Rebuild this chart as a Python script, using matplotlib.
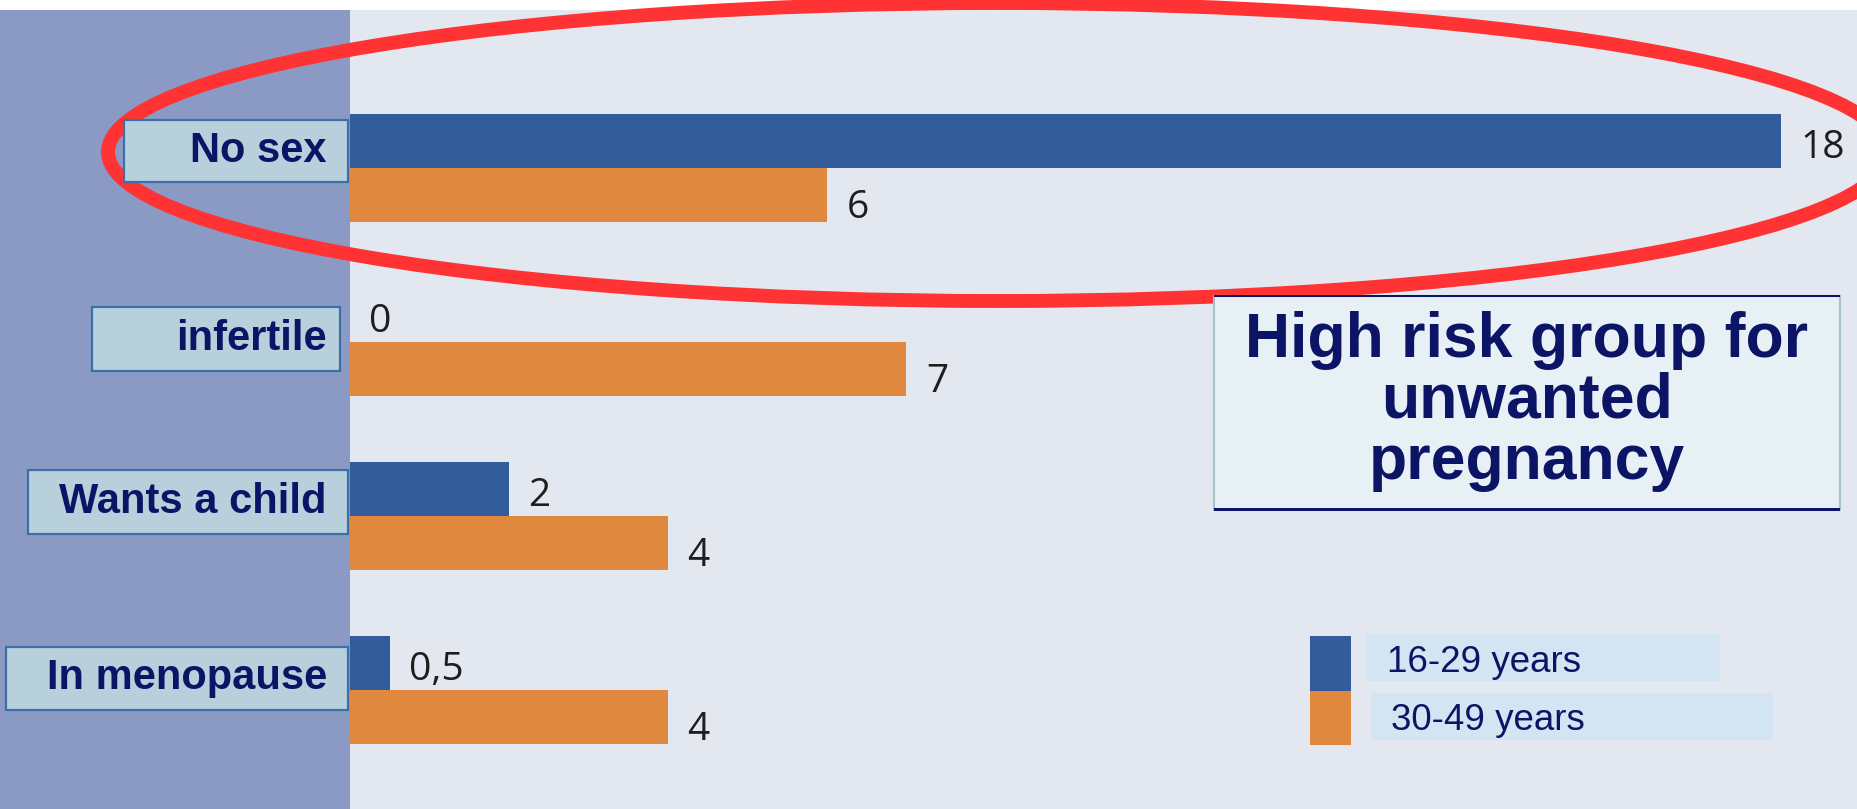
import matplotlib
matplotlib.use("Agg")
import matplotlib.pyplot as plt
from matplotlib.patches import Rectangle, Ellipse
import numpy as np

# data
categories = ["No sex", "infertile", "Wants a child", "In menopause"]
young = [18, 0, 2, 0.5]      # 16-29 years
older = [6, 7, 4, 4]         # 30-49 years
series_names = ["16-29 years", "30-49 years"]
title_lines = ["High risk group for", "unwanted", "pregnancy"]

# layout (pixels, from top-left of the 1858x809 canvas)
W, H = 1858, 809
DPI = 100
box_left = [124, 92, 28, 6]
box_right = [348, 340, 348, 348]
box_top = [120, 307, 470, 647]
box_bottom = [182, 371, 534, 710]

BLUE = "#325C9A"
ORANGE = "#E0883E"
NAVY = "#0C1466"
PANEL = "#8B9AC4"
PLOT_BG = "#E3E8F0"


def fx(px):
    return px / W


def fy(py):
    return 1 - py / H


def fig_rect(fig, x0, y0, x1, y1, **kw):
    r = Rectangle((fx(x0), fy(y1)), (x1 - x0) / W, (y1 - y0) / H,
                  transform=fig.transFigure, **kw)
    fig.add_artist(r)
    return r


def fmt(v):
    return str(int(v)) if float(v).is_integer() else str(v).replace(".", ",")


fig = plt.figure(figsize=(W / DPI, H / DPI), dpi=DPI, facecolor="white")

# left panel
fig_rect(fig, 0, 10, 350, 809, facecolor=PANEL, edgecolor="none", zorder=0)

ax = fig.add_axes([fx(350), 0, 1508 / W, 799 / H])
ax.set_facecolor(PLOT_BG)
for s in ax.spines.values():
    s.set_visible(False)
ax.set_xticks([])
ax.set_yticks([])

y = np.arange(len(categories))
h = 0.313
ax.barh(y - h / 2, young, height=h, color=BLUE, edgecolor="none")
ax.barh(y + h / 2, older, height=h, color=ORANGE, edgecolor="none")
ax.set_xlim(0, 1508 / 79.5)
ax.set_ylim(3.684, -0.908)

for yi, v in zip(y - h / 2, young):
    ax.annotate(fmt(v), (v, yi), xytext=(14, -12.2), textcoords="offset points",
                va="baseline", ha="left", fontsize=28, family="Open Sans",
                color="#1E1E1E")
for yi, v in zip(y + h / 2, older):
    ax.annotate(fmt(v), (v, yi), xytext=(14, -16.6), textcoords="offset points",
                va="baseline", ha="left", fontsize=28, family="Open Sans",
                color="#1E1E1E")

# red highlight ellipse (sits behind the label boxes)
fig.add_artist(Ellipse((fx(998), fy(152)), 1780 / W, 298 / H,
                       transform=fig.transFigure, fill=False, edgecolor="#FF3333",
                       linewidth=10, zorder=1.5))

# category label boxes
for name, x0, x1, t0, t1 in zip(categories, box_left, box_right, box_top, box_bottom):
    fig_rect(fig, x0, t0, x1, t1, facecolor="#B8D0DB", edgecolor="#3E6FA6",
             linewidth=1.6, zorder=2)
    fig.text(fx(327), fy((t0 + t1) / 2 + 11), name, ha="right", va="baseline",
             fontsize=30, fontweight="bold", family="Liberation Sans", color=NAVY,
             zorder=3)

# title box
fig_rect(fig, 1214, 296, 1840, 510, facecolor="#E7F0F4", edgecolor="#A9C0CF",
         linewidth=1.5, zorder=2)
fig_rect(fig, 1214, 295, 1840, 297, facecolor=NAVY, edgecolor="none", zorder=3)
fig_rect(fig, 1214, 508, 1840, 511, facecolor=NAVY, edgecolor="none", zorder=3)
for line, base in zip(title_lines, [357, 418, 479]):
    fig.text(fx(1527), fy(base), line, ha="center", va="baseline", fontsize=45,
             fontweight="bold", family="Liberation Sans", color=NAVY, zorder=4)

# legend
fig_rect(fig, 1310, 636, 1351, 691, facecolor=BLUE, edgecolor="none", zorder=2)
fig_rect(fig, 1310, 691, 1351, 745, facecolor=ORANGE, edgecolor="none", zorder=2)
fig_rect(fig, 1366, 634, 1720, 681, facecolor="#D3E4F2", edgecolor="none", zorder=2)
fig_rect(fig, 1371, 693, 1773, 740, facecolor="#D3E4F2", edgecolor="none", zorder=2)
for name, x0, base in zip(series_names, [1387, 1391], [672, 730]):
    fig.text(fx(x0), fy(base), name, ha="left", va="baseline", fontsize=26.5,
             family="Liberation Sans", color=NAVY, zorder=3)

fig.savefig("out.png", dpi=DPI, facecolor="white")
